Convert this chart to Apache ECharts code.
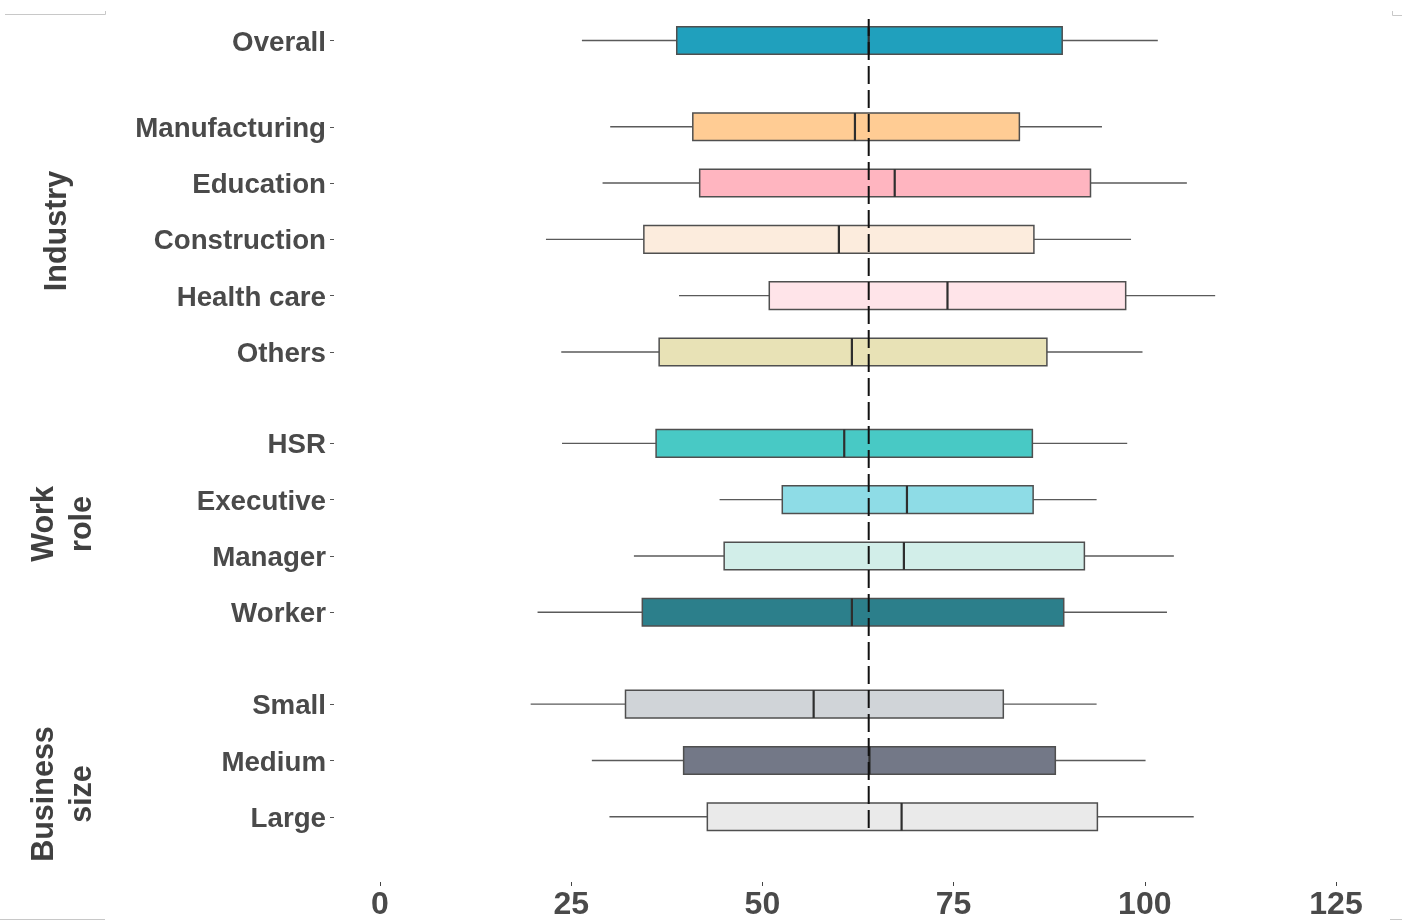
<!DOCTYPE html>
<html>
<head>
<meta charset="utf-8">
<script src="https://cdn.jsdelivr.net/npm/echarts@6/dist/echarts.min.js"></script>
<style>
  html, body { margin: 0; padding: 0; background: #ffffff; }
  #chart { width: 1402px; height: 921px; }
</style>
</head>
<body>
<div id="chart"></div>
<script>
// ---- Categories, one list per panel (top to bottom) ----
const overallCats  = ['Overall'];
const industryCats = ['Manufacturing', 'Education', 'Construction', 'Health care', 'Others'];
const roleCats     = ['HSR', 'Executive', 'Manager', 'Worker'];
const sizeCats     = ['Small', 'Medium', 'Large'];

// ---- Five-number summaries: [lower whisker, Q1, median, Q3, upper whisker] ----
const overallStats  = [[26.4, 38.8, 63.9, 89.2, 101.7]];
const industryStats = [
  [30.1, 40.9, 62.1, 83.6, 94.4],
  [29.1, 41.8, 67.3, 92.9, 105.5],
  [21.7, 34.5, 60.0, 85.5, 98.2],
  [39.1, 50.9, 74.2, 97.5, 109.2],
  [23.7, 36.5, 61.7, 87.2, 99.7]
];
const roleStats = [
  [23.8, 36.1, 60.7, 85.3, 97.7],
  [44.4, 52.6, 68.9, 85.4, 93.7],
  [33.2, 45.0, 68.5, 92.1, 103.8],
  [20.6, 34.3, 61.7, 89.4, 102.9]
];
const sizeStats = [
  [19.7, 32.1, 56.7, 81.5, 93.7],
  [27.7, 39.7, 64.0, 88.3, 100.1],
  [30.0, 42.8, 68.2, 93.8, 106.4]
];

// ---- Fill colours per box ----
const overallColors  = ['#20A0BD'];
const industryColors = ['#FFCC94', '#FFB5C0', '#FCECDD', '#FFE4E9', '#E8E2B6'];
const roleColors     = ['#48C9C5', '#8EDCE6', '#D2EEE9', '#2C7F8B'];
const sizeColors     = ['#D0D4D8', '#737887', '#EAEAEA'];

// ---- Strip titles and axis ticks ----
const panelTitles = ['', 'Industry', 'Work\nrole', 'Business\nsize'];
const xTicks = [0, 25, 50, 75, 100, 125];
const referenceValue = 63.9;   // overall median, drawn as dashed line

// ---- Layout ----
const BAND = 56.3;
const ZERO_X = 380;                 // pixel position of x = 0
const PLOT_WIDTH = 956;             // pixels from 0 to 125
const PANEL_LEFT = 334;             // panels start a little left of zero
const X_MIN = xTicks[0];
const X_MAX = xTicks[xTicks.length - 1];
const PX_PER_UNIT = PLOT_WIDTH / (X_MAX - X_MIN);
const PANEL_MIN = X_MIN - (ZERO_X - PANEL_LEFT) / PX_PER_UNIT;

const panels = [
  { cats: overallCats,  stats: overallStats,  colors: overallColors,  top: 12.4 },
  { cats: industryCats, stats: industryStats, colors: industryColors, top: 98.6 },
  { cats: roleCats,     stats: roleStats,     colors: roleColors,     top: 415.2 },
  { cats: sizeCats,     stats: sizeStats,     colors: sizeColors,     top: 676.0 }
];
const stripPos = [null, { x: 58, y: 231 }, { x: 64, y: 524 }, { x: 64, y: 794 }];

const TEXT = '#4a4a4a';
const FONT = "'Liberation Sans', Arial, Helvetica, sans-serif";

const grids = [], xAxes = [], yAxes = [], series = [];

panels.forEach((p, gi) => {
  grids.push({
    left: PANEL_LEFT, width: ZERO_X + PLOT_WIDTH - PANEL_LEFT,
    top: p.top, height: p.cats.length * BAND
  });
  xAxes.push({ type: 'value', gridIndex: gi, min: PANEL_MIN, max: X_MAX, show: false });
  yAxes.push({
    type: 'category', gridIndex: gi, data: p.cats, inverse: true,
    axisLine: { show: false, onZero: false },
    axisTick: { show: true, alignWithLabel: true, length: 4, lineStyle: { color: '#555', width: 1 } },
    axisLabel: {
      margin: 8,
      formatter: '{t|{value}}',
      rich: {
        t: {
          fontSize: 27.7, fontWeight: 'bold', color: TEXT, fontFamily: FONT,
          padding: [5, 0, 0, 0]
        }
      }
    },
    splitLine: { show: false }
  });
  const colors = p.colors;
  series.push({
    type: 'custom', xAxisIndex: gi, yAxisIndex: gi,
    encode: { x: [1, 2, 3, 4, 5], y: 0 },
    data: p.stats.map((s, i) => [i].concat(s)),
    renderItem: function (params, api) {
      const cat = api.value(0);
      const lo = api.coord([api.value(1), cat]);
      const q1 = api.coord([api.value(2), cat]);
      const md = api.coord([api.value(3), cat]);
      const q3 = api.coord([api.value(4), cat]);
      const hi = api.coord([api.value(5), cat]);
      const h = api.size([0, 1])[1] * 0.49;
      const y = lo[1];
      const whisk = { stroke: '#5a5a5a', lineWidth: 1.4 };
      return {
        type: 'group',
        children: [
          { type: 'line', shape: { x1: lo[0], y1: y, x2: q1[0], y2: y }, style: whisk },
          { type: 'line', shape: { x1: q3[0], y1: y, x2: hi[0], y2: y }, style: whisk },
          { type: 'rect', shape: { x: q1[0], y: y - h / 2, width: q3[0] - q1[0], height: h },
            style: { fill: colors[params.dataIndex], stroke: '#4f4f4f', lineWidth: 1.5 } },
          { type: 'line', shape: { x1: md[0], y1: y - h / 2, x2: md[0], y2: y + h / 2 },
            style: { stroke: '#2e2e2e', lineWidth: 2.2 } }
        ]
      };
    },
    z: 2
  });
});

// Thin panel along the bottom that carries the shared x axis
const ax = panels.length;
grids.push({ left: ZERO_X, width: PLOT_WIDTH, top: 870, height: 13 });
xAxes.push({
  type: 'value', gridIndex: ax, min: X_MIN, max: X_MAX, interval: 25, position: 'bottom',
  axisLine: { show: false, onZero: false },
  axisTick: { show: true, length: 4, lineStyle: { color: '#444', width: 1 } },
  axisLabel: { fontSize: 32, fontWeight: 'bold', color: TEXT, margin: 7, fontFamily: FONT },
  splitLine: { show: false }
});
yAxes.push({ type: 'value', gridIndex: ax, min: 0, max: 1, show: false });

// Overlay panel for the dashed reference line spanning all groups
const ov = panels.length + 1;
grids.push({ left: ZERO_X, width: PLOT_WIDTH, top: 19, height: 809 });
xAxes.push({ type: 'value', gridIndex: ov, min: X_MIN, max: X_MAX, show: false });
yAxes.push({ type: 'value', gridIndex: ov, min: 0, max: 1, show: false });
series.push({
  type: 'line', xAxisIndex: ov, yAxisIndex: ov,
  data: [[referenceValue, 0], [referenceValue, 1]],
  symbol: 'none', silent: true,
  lineStyle: { color: '#111111', width: 2, type: [18, 6] },
  z: 5
});

// Strip titles on the left, rotated
const graphics = [];
panelTitles.forEach((t, i) => {
  if (!t) return;
  graphics.push({
    type: 'text', x: stripPos[i].x, y: stripPos[i].y, rotation: Math.PI / 2,
    style: {
      text: t, fill: '#404040', font: "bold 30.5px " + FONT,
      align: 'center', verticalAlign: 'middle', lineHeight: 38
    }
  });
});
// Thin frame corner marks
const corner = { stroke: '#c8c8c8', lineWidth: 1 };
graphics.push(
  { type: 'polyline', shape: { points: [[5, 14.5], [105.5, 14.5], [105.5, 11]] }, style: corner },
  { type: 'polyline', shape: { points: [[1402, 15.5], [1392.5, 15.5], [1392.5, 11]] }, style: corner },
  { type: 'line', shape: { x1: 0, y1: 919.5, x2: 105, y2: 919.5 }, style: corner },
  { type: 'line', shape: { x1: 1390, y1: 919.5, x2: 1402, y2: 919.5 }, style: corner }
);

const chart = echarts.init(document.getElementById('chart'), null, { renderer: 'canvas' });
chart.setOption({
  backgroundColor: '#ffffff',
  animation: false,
  grid: grids,
  xAxis: xAxes,
  yAxis: yAxes,
  series: series,
  graphic: graphics
});
</script>
</body>
</html>
